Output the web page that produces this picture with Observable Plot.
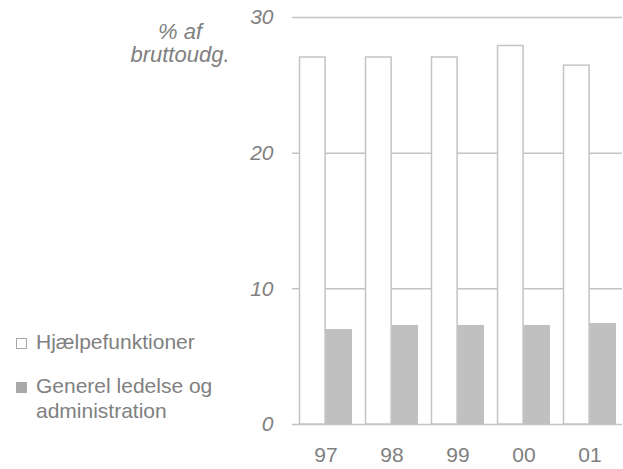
<!DOCTYPE html>
<html>
<head>
<meta charset="utf-8">
<script src="https://cdn.jsdelivr.net/npm/d3@7"></script>
<script src="https://cdn.jsdelivr.net/npm/@observablehq/plot@0.6"></script>
<style>
  html, body { margin: 0; padding: 0; background: #fff; }
  #wrap { position: relative; width: 623px; height: 469px; font-family: "Liberation Sans", Arial, sans-serif; color: #808080; }
  #ylabel { position: absolute; left: 100px; width: 160px; top: 20px; text-align: center; font-style: italic; font-size: 22px; line-height: 23px; }
  .leg { position: absolute; left: 16px; font-size: 21px; line-height: 25px; }
  .sw { display: inline-block; width: 11px; height: 11px; margin-right: 9px; box-sizing: border-box; vertical-align: 0px; }
</style>
</head>
<body>
<div id="wrap">
  <div id="ylabel">% af<br>bruttoudg.</div>
  <div class="leg" style="top:329px;"><span class="sw" style="border:1px solid #a8a8a8;background:#fff"></span>Hjælpefunktioner</div>
  <div class="leg" style="top:373px;"><span class="sw" style="background:#a8a8a8"></span>Generel ledelse og<br><span style="padding-left:20px">administration</span></div>
  <div id="chart"></div>
</div>
<script>
const years = ["97", "98", "99", "00", "01"];
const hjaelpe = [27.05, 27.05, 27.05, 27.9, 26.45];
const generel = [7.0, 7.3, 7.3, 7.3, 7.45];
const yTicks = [0, 10, 20, 30];

const dataH = years.map((y, i) => ({year: y, value: hjaelpe[i]}));
const dataG = years.map((y, i) => ({year: y, value: generel[i]}));

const bw = 52.8;
const chart = Plot.plot({
  width: 623,
  height: 469,
  marginLeft: 292,
  marginRight: 1,
  marginTop: 17,
  marginBottom: 45,
  style: {fontFamily: "Liberation Sans, Arial, sans-serif", fontSize: "21px", color: "#808080", background: "transparent"},
  x: {domain: years, paddingInner: 0.2, paddingOuter: 0.1, label: null},
  y: {domain: [0, 30], label: null},
  marks: [
    Plot.ruleY(yTicks, {stroke: "#c4c4c4", strokeWidth: 1.5}),
    Plot.barY(dataH, {x: "year", y: "value", fill: "#fff", stroke: "#c4c4c4", strokeWidth: 1.5, insetRight: bw / 2 + 0.5, insetLeft: 0.5}),
    Plot.barY(dataG, {x: "year", y: "value", fill: "#c0c0c0", insetLeft: bw / 2}),
    Plot.axisX({tickSize: 0, tickPadding: 23, fill: "#808080", label: null}),
    Plot.axisY({ticks: yTicks, tickSize: 0, tickPadding: 19, fill: "#808080", fontStyle: "italic", label: null})
  ]
});
document.getElementById("chart").appendChild(chart);
</script>
</body>
</html>
